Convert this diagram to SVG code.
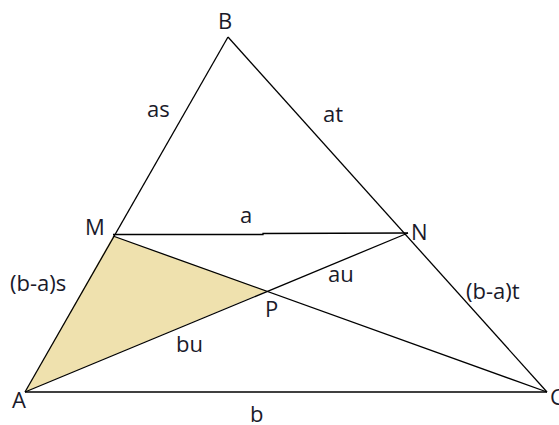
<svg xmlns="http://www.w3.org/2000/svg" width="559" height="425" viewBox="0 0 559 425">
<style>
.l{stroke:#000;stroke-width:1.3;fill:none}
text{font-family:"Open Sans","Liberation Sans",sans-serif;font-size:22px;fill:#1a1a2a}
</style>
<rect width="559" height="425" fill="#fff"/>
<polygon points="113,236 267,291 25,392" fill="#EFE1AE"/>
<g id="connectors">
<line class="l" x1="25" y1="392" x2="228" y2="37"/>
<line class="l" x1="228" y1="37" x2="547" y2="392"/>
<line class="l" x1="25" y1="392" x2="547" y2="392"/>
<polyline class="l" points="113,234.5 263,234.5 263,233.5 408,233"/>
<line class="l" x1="113" y1="236" x2="547" y2="392"/>
<line class="l" x1="25" y1="392" x2="408" y2="233"/>
</g>
<g id="B"><text x="218" y="29">B</text></g>
<g id="M"><text x="85" y="235">M</text></g>
<g id="N"><text x="411" y="240">N</text></g>
<g id="P"><text x="265" y="317">P</text></g>
<g id="A"><text x="12" y="408">A</text></g>
<g id="C"><text x="550" y="405">C</text></g>
<g id="labels">
<text x="147" y="117">as</text>
<text x="323" y="122">at</text>
<text x="240" y="223">a</text>
<text x="10" y="291">(b-a)s</text>
<text x="328" y="282">au</text>
<text x="466" y="299">(b-a)t</text>
<text x="176" y="352">bu</text>
<text x="250" y="422">b</text>
</g>
</svg>
